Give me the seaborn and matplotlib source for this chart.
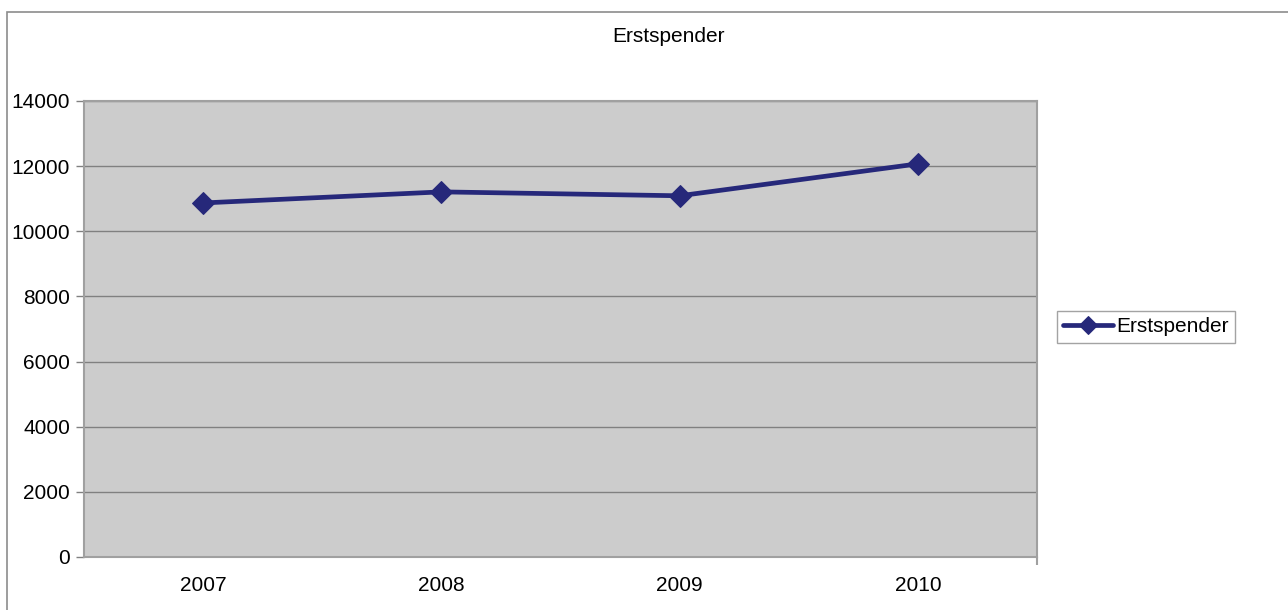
import matplotlib
matplotlib.use("Agg")
import matplotlib.pyplot as plt
import seaborn as sns
import pandas as pd
from matplotlib.patches import Rectangle

years = ["2007", "2008", "2009", "2010"]
erstspender = [10870, 11210, 11090, 12070]
y_ticks = [0, 2000, 4000, 6000, 8000, 10000, 12000, 14000]
series_name = "Erstspender"
title = "Erstspender"

sns.set_theme(style="white")
plt.rcParams['font.family'] = ['Liberation Sans', 'DejaVu Sans']
plt.rcParams['text.color'] = 'black'

df = pd.DataFrame({"Jahr": years, "Wert": erstspender})
df["pos"] = range(len(years))

W, H = 1288, 610
fig = plt.figure(figsize=(W / 100, H / 100), dpi=100)
fig.patch.set_facecolor("white")
ax = fig.add_axes([84 / W, 1 - 557 / H, (1037 - 84) / W, (557 - 101) / H])
ax.set_facecolor("#cccccc")

line_color = "#26287a"
sns.lineplot(data=df, x="pos", y="Wert", ax=ax, color=line_color, linewidth=3.4,
             marker="D", markersize=11, markeredgecolor=line_color,
             label=series_name, legend=False)

ax.set_xlim(-0.5, len(years) - 0.5)
ax.set_ylim(0, 14000)
ax.set_yticks(y_ticks)
ax.set_yticklabels([str(v) for v in y_ticks], fontsize=15, color="black")
ax.set_xticks(range(len(years)))
ax.set_xticklabels(years, fontsize=15, color="black")
ax.set_xlabel("")
ax.set_ylabel("")
ax.yaxis.grid(True, color="#808080", linewidth=1.0)
ax.xaxis.grid(False)
ax.set_axisbelow(True)

for side in ["left", "bottom", "right", "top"]:
    ax.spines[side].set_visible(True)
    ax.spines[side].set_color("#a0a0a0")
    ax.spines[side].set_linewidth(1.5)

ax.tick_params(axis="y", which="both", length=6, width=1, color="#808080",
               left=True, pad=4)
ax.tick_params(axis="x", which="major", length=0, pad=14)
ax.set_xticks([len(years) - 0.5], minor=True)
ax.tick_params(axis="x", which="minor", length=6, width=1.5, color="#a0a0a0", bottom=True)

fig.text(669 / W, 1 - 37 / H, title, ha="center", va="center", fontsize=15, color="black")

# outer chart frame
fig.patches.append(Rectangle((7 / W, -0.01), 1.02, 1 - 12 / H + 0.01,
                             transform=fig.transFigure, fill=False,
                             edgecolor="#8c8c8c", linewidth=1.2))

handles, labels = ax.get_legend_handles_labels()
leg = fig.legend(handles, labels, loc="upper left",
                 bbox_to_anchor=(1057 / W, 1 - 311 / H), frameon=True,
                 fontsize=15, handlelength=2.4, handletextpad=0.15,
                 borderpad=0.3, borderaxespad=0, fancybox=False,
                 markerscale=0.8, labelcolor="black")
leg.get_frame().set_edgecolor("#8c8c8c")
leg.get_frame().set_linewidth(1.0)

fig.savefig("out.png", dpi=100, facecolor="white")
